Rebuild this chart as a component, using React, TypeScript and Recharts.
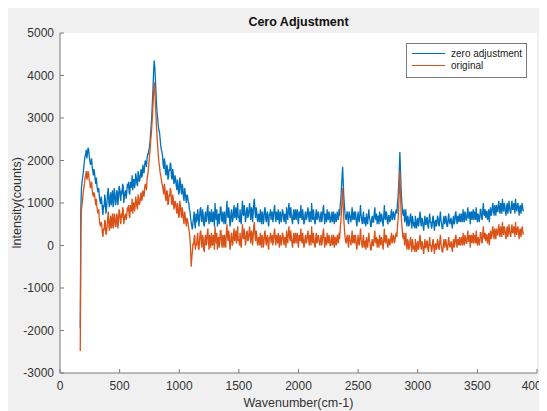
import React from "react";
import {
  LineChart,
  Line,
  XAxis,
  YAxis,
  CartesianGrid,
  Legend,
} from "recharts";

// intensity readings, one every 5 cm-1 starting at 170 cm-1 (one row = 100 cm-1)
const zeroAdjustment = [
  -1950, 900, 1350, 1500, 1600, 1700, 1850, 2000, 2100, 2150, 2250, 2050, 2150, 2300, 2260, 2100, 2000, 1900, 1950, 2050,
  1850, 1750, 1650, 1800, 1700, 1550, 1450, 1600, 1400, 1300, 1250, 1350, 1150, 1050, 980, 1150, 1050, 850, 720, 950,
  900, 1200, 1100, 750, 850, 1050, 1250, 1350, 1000, 900, 1150, 1250, 950, 1100, 1300, 900, 1050, 1350, 1200, 950,
  1000, 1300, 1250, 950, 1100, 1400, 1350, 1150, 1050, 1300, 1200, 1450, 1400, 1000, 1150, 1250, 1300, 1100, 1250, 1450,
  1350, 1500, 1250, 1200, 1500, 1350, 1400, 1650, 1300, 1550, 1550, 1350, 1450, 1700, 1600, 1450, 1400, 1750, 1650, 1500,
  1550, 1700, 1800, 1600, 1650, 1900, 1750, 1700, 1900, 2000, 1950, 1850, 2050, 2150, 2150, 2250, 2300, 2450, 2650, 2850,
  3050, 3400, 3700, 4100, 4350, 4200, 3900, 3600, 3300, 3100, 2950, 2800, 2700, 2650, 2500, 2350, 2250, 2200, 2100, 1900,
  1800, 2050, 1950, 1700, 1650, 1900, 1850, 1550, 1600, 1800, 1750, 1950, 1900, 1600, 1550, 1800, 1700, 1450, 1500, 1650,
  1550, 1400, 1300, 1550, 1450, 1200, 1250, 1600, 1500, 1300, 1200, 1450, 1350, 1150, 1050, 1350, 1250, 1100, 1000, 1200,
  1150, 1050, 1000, 850, 800, 650, 550, 450, 380, 550, 650, 800, 500, 400, 750, 550, 600, 850, 700, 450,
  650, 850, 900, 600, 550, 850, 750, 500, 450, 700, 800, 550, 600, 850, 950, 650, 500, 800, 700, 550,
  850, 600, 550, 800, 700, 450, 1000, 750, 600, 850, 450, 700, 750, 500, 650, 900, 900, 600, 550, 800,
  700, 500, 800, 600, 500, 800, 1050, 700, 650, 900, 750, 450, 550, 800, 850, 550, 600, 800, 950, 650,
  750, 900, 600, 750, 1000, 650, 700, 550, 850, 600, 500, 800, 1050, 750, 700, 950, 800, 550, 650, 850,
  900, 650, 700, 850, 1000, 750, 600, 900, 850, 550, 750, 1000, 1100, 800, 650, 900, 800, 600, 550, 750,
  700, 550, 850, 650, 500, 800, 750, 500, 600, 850, 900, 650, 550, 750, 800, 550, 450, 750, 700, 850,
  600, 750, 800, 550, 650, 850, 950, 700, 550, 800, 700, 600, 850, 650, 500, 800, 750, 550, 650, 850,
  800, 650, 550, 750, 700, 500, 900, 700, 600, 850, 1000, 750, 650, 900, 750, 600, 500, 700, 850, 600,
  700, 850, 600, 750, 850, 600, 500, 800, 750, 650, 950, 700, 600, 850, 700, 500, 550, 750, 800, 600,
  650, 800, 900, 700, 550, 800, 750, 550, 1000, 700, 600, 850, 700, 550, 500, 750, 850, 600, 650, 800,
  750, 600, 550, 700, 800, 550, 650, 850, 950, 700, 500, 750, 700, 550, 850, 650, 600, 800, 750, 550,
  550, 700, 800, 550, 650, 800, 500, 700, 750, 550, 600, 800, 700, 600, 850, 700, 950, 1100, 1350, 1600,
  1850, 1500, 1150, 950, 750, 650, 600, 750, 800, 600, 500, 800, 700, 650, 550, 750, 900, 600, 650, 800,
  600, 800, 750, 550, 450, 650, 800, 600, 550, 750, 950, 700, 600, 500, 700, 800, 500, 650, 650, 450,
  750, 600, 500, 700, 850, 650, 600, 450, 450, 650, 700, 550, 550, 750, 900, 650, 600, 750, 500, 700,
  650, 500, 800, 650, 550, 750, 700, 550, 450, 700, 950, 650, 600, 800, 750, 550, 500, 700, 700, 550,
  600, 750, 850, 600, 650, 800, 750, 600, 700, 800, 850, 750, 1000, 1150, 1400, 1750, 2200, 1800, 1350, 1050,
  900, 750, 700, 850, 550, 650, 850, 550, 450, 700, 650, 450, 500, 650, 750, 550, 400, 700, 600, 450,
  550, 400, 700, 500, 400, 600, 650, 450, 500, 700, 800, 550, 450, 650, 600, 450, 350, 550, 700, 500,
  500, 650, 650, 450, 400, 600, 750, 550, 550, 400, 450, 650, 700, 500, 350, 550, 600, 450, 500, 700,
  650, 500, 450, 650, 800, 600, 500, 400, 400, 600, 700, 500, 550, 700, 600, 450, 450, 650, 750, 550,
  500, 600, 650, 500, 400, 600, 700, 500, 550, 750, 800, 600, 500, 700, 650, 550, 750, 600, 550, 750,
  700, 550, 850, 650, 550, 800, 750, 600, 600, 750, 900, 650, 650, 800, 500, 750, 800, 600, 700, 850,
  600, 800, 750, 600, 900, 700, 550, 750, 700, 550, 650, 850, 850, 650, 600, 800, 1000, 750, 700, 850,
  650, 800, 800, 600, 700, 850, 550, 750, 900, 700, 750, 900, 1000, 800, 700, 950, 850, 700, 950, 800,
  800, 950, 1050, 800, 750, 1000, 900, 750, 1100, 900, 800, 1000, 950, 800, 700, 900, 1000, 750, 850, 1050,
  900, 800, 750, 950, 1050, 850, 850, 1000, 950, 750, 1100, 900, 800, 950, 1000, 850, 700, 900, 950, 750,
  850, 1000, 900, 800,
];

const original = [
  -2480, 300, 850, 950, 1100, 1250, 1350, 1450, 1600, 1650, 1750, 1550, 1600, 1750, 1700, 1550, 1500, 1350, 1400, 1500,
  1300, 1200, 1150, 1250, 1200, 1050, 950, 1100, 900, 800, 750, 850, 600, 500, 450, 550, 500, 300, 200, 400,
  350, 600, 550, 250, 300, 450, 650, 800, 450, 350, 600, 700, 400, 550, 750, 400, 500, 750, 650, 450,
  450, 750, 700, 400, 550, 850, 800, 600, 500, 750, 650, 900, 850, 500, 600, 700, 750, 600, 700, 900,
  800, 950, 700, 650, 950, 800, 850, 1100, 750, 1000, 1000, 800, 900, 1150, 1050, 900, 850, 1200, 1100, 950,
  1000, 1150, 1250, 1050, 1100, 1300, 1200, 1150, 1350, 1450, 1400, 1300, 1550, 1650, 1750, 1900, 2100, 2250, 2450, 2600,
  2800, 3050, 3300, 3600, 3840, 3650, 3350, 3050, 2750, 2500, 2300, 2100, 1950, 1850, 1700, 1650, 1550, 1450, 1400, 1300,
  1200, 1450, 1350, 1100, 1050, 1300, 1250, 950, 1000, 1200, 1150, 1350, 1300, 1000, 950, 1200, 1100, 850, 900, 1050,
  1000, 850, 750, 1000, 900, 650, 700, 1050, 950, 750, 650, 900, 800, 600, 500, 800, 700, 550, 450, 650,
  600, 500, 400, 300, 150, -100, -500, -300, -150, 50, 0, 200, 250, -100, 50, 0, 200, 300, -50, -100,
  100, 300, 350, 50, -50, 250, 200, -100, -150, 150, 250, 0, 50, 300, 400, 100, -100, 250, 150, -50,
  300, 50, 0, 250, 150, -100, 450, 200, 50, 300, -100, 150, 200, -50, 100, 350, 350, 50, -50, 250,
  150, -50, 250, 50, -50, 300, 500, 200, 100, 350, 200, -100, 0, 250, 300, 0, 50, 250, 400, 100,
  200, 350, 50, 200, 450, 100, 150, 0, 300, 50, -50, 250, 500, 200, 150, 400, 250, 0, 100, 300,
  350, 100, 150, 300, 450, 200, 50, 350, 300, 0, 200, 450, 550, 250, 100, 350, 250, 50, 0, 200,
  150, 0, 300, 100, -50, 250, 200, -50, 50, 300, 350, 100, 0, 200, 250, 0, -100, 200, 150, 300,
  50, 200, 250, 0, 100, 300, 400, 150, 0, 250, 150, 50, 300, 100, -50, 250, 200, 0, 100, 300,
  250, 100, 0, 200, 150, -50, 350, 150, 50, 300, 450, 200, 100, 350, 200, 50, -50, 150, 300, 50,
  150, 300, 50, 200, 300, 50, -50, 250, 200, 100, 400, 150, 50, 300, 150, -50, 0, 200, 250, 50,
  100, 250, 350, 150, 0, 250, 200, 0, 450, 150, 50, 300, 150, 0, -50, 200, 300, 50, 100, 250,
  200, 50, 0, 150, 250, 0, 100, 300, 400, 150, -50, 200, 150, 0, 300, 100, 50, 250, 200, 0,
  0, 150, 250, 0, 100, 250, -50, 150, 200, 0, 50, 250, 150, 50, 300, 150, 400, 550, 800, 1050,
  1350, 950, 600, 400, 200, 100, 50, 200, 250, 50, -50, 250, 150, 100, 0, 200, 350, 50, 100, 250,
  50, 250, 200, 0, -100, 100, 250, 50, 0, 200, 400, 150, 50, -50, 150, 250, -50, 100, 100, -100,
  200, 50, -50, 150, 300, 100, 50, -100, -100, 100, 150, 0, 0, 200, 350, 100, 50, 200, -50, 150,
  100, -50, 250, 100, 0, 200, 150, 0, -100, 150, 400, 100, 50, 250, 200, 0, -50, 150, 150, 0,
  50, 200, 300, 50, 100, 250, 200, 50, 150, 250, 300, 200, 450, 600, 850, 1300, 1750, 1300, 800, 550,
  350, 200, 150, 300, 0, 100, 300, 0, -100, 150, 100, -100, -50, 100, 200, 0, -150, 150, 50, -100,
  0, -150, 150, -50, -150, 50, 100, -100, -50, 150, 250, 0, -100, 100, 50, -100, -200, 0, 150, -50,
  -50, 100, 100, -100, -150, 50, 200, 0, 0, -150, -100, 100, 150, -50, -200, 0, 50, -100, -50, 150,
  100, -50, -100, 100, 250, 50, -50, -150, -150, 50, 150, -50, 0, 150, 50, -100, -100, 100, 200, 0,
  -50, 50, 100, -50, -150, 50, 150, -50, 0, 200, 250, 50, -50, 150, 100, 0, 200, 50, 0, 200,
  150, 0, 300, 100, 0, 250, 200, 50, 50, 200, 350, 100, 100, 250, -50, 200, 250, 50, 150, 300,
  50, 250, 200, 50, 350, 150, 0, 200, 150, 0, 100, 300, 300, 100, 50, 250, 450, 200, 150, 300,
  100, 250, 250, 50, 150, 300, 0, 200, 350, 150, 200, 350, 450, 250, 150, 400, 300, 150, 400, 250,
  250, 400, 500, 250, 200, 450, 350, 200, 550, 350, 250, 450, 400, 250, 150, 350, 450, 200, 300, 500,
  350, 250, 200, 400, 500, 300, 300, 450, 400, 200, 550, 350, 250, 400, 450, 300, 150, 350, 400, 200,
  300, 450, 350, 250,
];

const firstWavenumber = 170;
const wavenumberStep = 5;

const seriesNames = ["zero adjustment", "original"];
const seriesColors = ["#0072BD", "#D95319"];

const xTicks = [0, 500, 1000, 1500, 2000, 2500, 3000, 3500, 4000];
const yTicks = [-3000, -2000, -1000, 0, 1000, 2000, 3000, 4000, 5000];

const pointCount = Math.min(zeroAdjustment.length, original.length);
const data = zeroAdjustment.slice(0, pointCount).map((v, i) => ({
  w: firstWavenumber + i * wavenumberStep,
  zero: v,
  original: original[i],
}));

const FONT = "'Liberation Sans', Arial, sans-serif";
const AXIS = "#7a7a7a";
const TEXT = "#333";

function LegendBox(props: any) {
  const items = [...(props.payload || [])].sort(
    (a: any, b: any) => seriesNames.indexOf(a.value) - seriesNames.indexOf(b.value)
  );
  return (
    <div
      style={{
        background: "white",
        border: `1px solid ${AXIS}`,
        boxSizing: "border-box",
        width: 121,
        height: 35,
        padding: "3px 0 0 5px",
        fontFamily: FONT,
        fontSize: 10,
        color: "#222",
      }}
    >
      {items.map((it: any) => (
        <div key={it.value} style={{ display: "flex", alignItems: "center", height: 12.5 }}>
          <span style={{ display: "inline-block", width: 33, height: 1, background: it.color, marginRight: 6 }} />
          <span>{it.value}</span>
        </div>
      ))}
    </div>
  );
}

export default function App() {
  return (
    <div style={{ position: "relative", width: 539, height: 403, background: "#f0f0f0", fontFamily: FONT }}>
      <style>{`html,body{overflow:hidden}`}</style>
      <div
        style={{
          position: "absolute",
          left: 52,
          width: 477,
          top: 7,
          textAlign: "center",
          fontWeight: "bold",
          fontSize: 12.5,
          lineHeight: "14px",
          color: "#111",
        }}
      >
        Cero Adjustment
      </div>
      <LineChart width={539} height={403} data={data} margin={{ top: 25, right: 10, bottom: 0, left: 0 }}>
        <CartesianGrid fill="#ffffff" horizontal={false} vertical={false} />
        <XAxis
          dataKey="w"
          type="number"
          domain={[0, 4000]}
          ticks={xTicks}
          height={38}
          tickSize={-4}
          tickMargin={12}
          stroke={AXIS}
          tick={{ fill: TEXT, fontSize: 12, fontFamily: FONT }}
          label={{ value: "Wavenumber(cm-1)", position: "insideBottom", offset: 4, fill: TEXT, fontSize: 12.5, fontFamily: FONT }}
        />
        <XAxis xAxisId="top" orientation="top" type="number" domain={[0, 4000]} ticks={xTicks} height={0} tickSize={-4} tick={false} stroke={AXIS} />
        <YAxis
          type="number"
          domain={[-3000, 5000]}
          ticks={yTicks}
          width={52}
          tickSize={-4}
          tickMargin={10}
          stroke={AXIS}
          tick={{ fill: TEXT, fontSize: 12, fontFamily: FONT }}
          label={{ value: "Intensity(counts)", angle: -90, position: "insideLeft", offset: 9, fill: TEXT, fontSize: 12.5, fontFamily: FONT, style: { textAnchor: "middle" } }}
        />
        <YAxis yAxisId="right" orientation="right" type="number" domain={[-3000, 5000]} ticks={yTicks} width={0} tickSize={-4} tick={false} stroke={AXIS} />
        <Legend
          layout="horizontal"
          verticalAlign="middle"
          align="center"
          wrapperStyle={{ top: 35, left: 398, width: 121, height: 35 }}
          content={LegendBox}
        />
        <Line name={seriesNames[0]} dataKey="zero" stroke={seriesColors[0]} strokeWidth={1.3} dot={false} isAnimationActive={false} />
        <Line name={seriesNames[1]} dataKey="original" stroke={seriesColors[1]} strokeWidth={1.3} dot={false} isAnimationActive={false} />
      </LineChart>
    </div>
  );
}
